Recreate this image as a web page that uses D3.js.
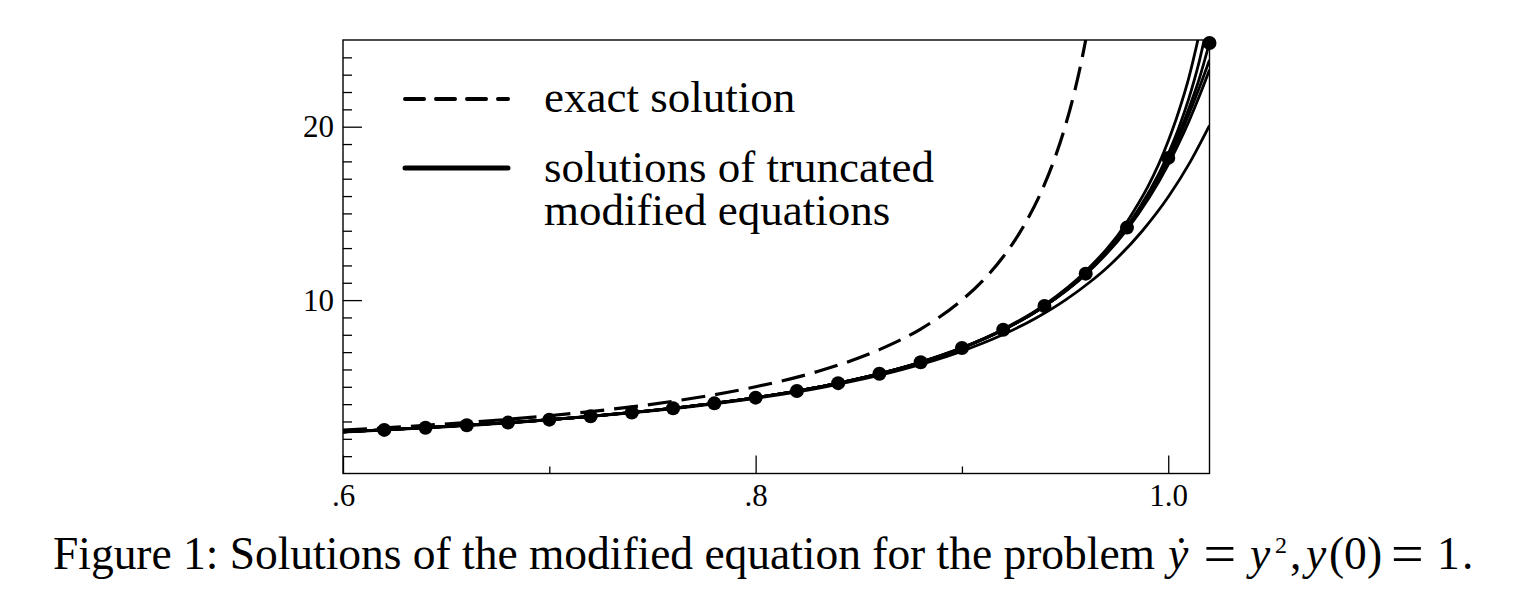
<!DOCTYPE html>
<html>
<head>
<meta charset="utf-8">
<script src="https://cdn.jsdelivr.net/npm/d3@7"></script>
<style>
  html, body { margin: 0; padding: 0; background: #fff; }
  svg { display: block; }
  text { font-family: "Liberation Serif", "Times New Roman", serif; fill: #000; }
</style>
</head>
<body>
<script>
// ---------------- data ----------------
// exact solution (dashed)
const tExact = [0.60, 0.64, 0.68, 0.72, 0.76, 0.80, 0.83, 0.86, 0.88, 0.90, 0.91, 0.92, 0.93, 0.94, 0.945, 0.95, 0.955, 0.96, 0.962];
const yExact = [2.5, 2.778, 3.125, 3.571, 4.167, 5.0, 5.882, 7.143, 8.333, 10.0, 11.111, 12.5, 14.286, 16.667, 18.182, 20.0, 22.222, 25.0, 26.316];

// lowest truncated solution
const tTrunc2 = [0.600, 0.6895, 0.7790, 0.8339, 0.8713, 0.8987, 0.9197, 0.9364, 0.9501, 0.9616, 0.9715, 0.9875, 1.0003, 1.0108, 1.0197, 1.0200];
const yTrunc2 = [2.392, 3.0, 4.0, 5.0, 6.0, 7.0, 8.0, 9.0, 10.0, 11.0, 12.0, 14.0, 16.0, 18.0, 20.0, 20.07];

// the other truncated solutions
const tGrid = [0.60, 0.64, 0.68, 0.72, 0.76, 0.80, 0.84, 0.88, 0.90, 0.92, 0.94, 0.96, 0.98, 1.00, 1.005, 1.01, 1.015, 1.02];
const yTrunc3 = [2.398, 2.641, 2.936, 3.301, 3.767, 4.377, 5.215, 6.427, 7.258, 8.322, 9.727, 11.666, 14.51, 19.17, 20.85, 22.83, 25.33];
const yTrunc4 = [2.398, 2.640, 2.934, 3.299, 3.764, 4.375, 5.209, 6.412, 7.234, 8.278, 9.641, 11.48, 14.06, 17.82, 19.01, 20.31, 21.74, 23.28];
const yTrunc5 = [2.398, 2.640, 2.934, 3.299, 3.764, 4.375, 5.210, 6.415, 7.239, 8.287, 9.662, 11.538, 14.23, 18.44, 19.90, 21.63, 23.75, 26.45];
const yTrunc6 = [2.398, 2.640, 2.934, 3.299, 3.764, 4.375, 5.210, 6.415, 7.238, 8.285, 9.657, 11.517, 14.155, 18.07, 19.33, 20.72, 22.23, 23.85];
const yTrunc7 = [2.398, 2.640, 2.934, 3.299, 3.764, 4.375, 5.210, 6.415, 7.238, 8.286, 9.660, 11.526, 14.19, 18.22, 19.55, 21.05, 22.75, 24.85];

// numerical solution (dots)
const tDots = [0.62, 0.64, 0.66, 0.68, 0.70, 0.72, 0.74, 0.76, 0.78, 0.80, 0.82, 0.84, 0.86, 0.88, 0.90, 0.92, 0.94, 0.96, 0.98, 1.00, 1.02];
const yDots = [2.514, 2.640, 2.779, 2.934, 3.106, 3.299, 3.517, 3.764, 4.047, 4.375, 4.757, 5.210, 5.753, 6.415, 7.238, 8.286, 9.659, 11.524, 14.180, 18.200, 24.825];

// axes
const xMajorTicks = [0.6, 0.8, 1.0];
const xTickLabels = [".6", ".8", "1.0"];
const xMinorTicks = [0.7, 0.9];
const yMajorTicks = [10, 20];
const yTickLabels = ["10", "20"];
const yMinorTicks = [1,2,3,4,5,6,7,8,9,11,12,13,14,15,16,17,18,19,21,22,23,24];

const legendLabels = ["exact solution", "solutions of truncated", "modified equations"];
const captionText = "Figure 1: Solutions of the modified equation for the problem";

// ---------------- drawing ----------------
const W = 1529, H = 599;
const svg = d3.select("body").append("svg").attr("width", W).attr("height", H);

const x = d3.scaleLinear().domain([0.6, 1.02]).range([343, 1209.5]);
const y = d3.scaleLinear().domain([0, 25]).range([473.5, 40]);

svg.append("defs").append("clipPath").attr("id", "plotclip")
  .append("rect")
  .attr("x", x.range()[0]).attr("y", y.range()[1])
  .attr("width", x.range()[1] - x.range()[0])
  .attr("height", y.range()[0] - y.range()[1]);

const line = d3.line().x(d => x(d[0])).y(d => y(d[1])).curve(d3.curveMonotoneX);
const zip = (ts, ys) => ys.map((v, i) => [ts[i], v]);

const plot = svg.append("g").attr("clip-path", "url(#plotclip)");

// solid curves
const solid = [
  zip(tTrunc2, yTrunc2),
  zip(tGrid, yTrunc4),
  zip(tGrid, yTrunc6),
  zip(tGrid, yTrunc7),
  zip(tGrid, yTrunc5),
  zip(tGrid, yTrunc3)
];
plot.selectAll("path.solid").data(solid).enter().append("path")
  .attr("class", "solid")
  .attr("d", line)
  .attr("fill", "none")
  .attr("stroke", "#000")
  .attr("stroke-width", 2.8);

// exact (dashed)
plot.append("path")
  .attr("d", line(zip(tExact, yExact)))
  .attr("fill", "none")
  .attr("stroke", "#000")
  .attr("stroke-width", 3.2)
  .attr("stroke-dasharray", "24,10");

// frame
svg.append("rect")
  .attr("x", x.range()[0]).attr("y", y.range()[1])
  .attr("width", x.range()[1] - x.range()[0])
  .attr("height", y.range()[0] - y.range()[1])
  .attr("fill", "none").attr("stroke", "#000").attr("stroke-width", 1.4);

// axes
function styleAxis(g) {
  g.select(".domain").remove();
  g.selectAll(".tick line").attr("stroke", "#000").attr("stroke-width", 1.3);
  g.selectAll(".tick text").attr("font-family", "Liberation Serif").attr("font-size", 31).attr("fill", "#000");
}
svg.append("g").attr("transform", `translate(0,${y.range()[0]})`)
  .call(d3.axisBottom(x).tickValues(xMinorTicks).tickSize(-7).tickFormat(""))
  .call(styleAxis);
svg.append("g").attr("transform", `translate(0,${y.range()[0]})`)
  .call(d3.axisBottom(x).tickValues(xMajorTicks).tickSize(-18).tickPadding(10)
        .tickFormat((d, i) => xTickLabels[i]))
  .call(styleAxis);
svg.append("g").attr("transform", `translate(${x.range()[0]},0)`)
  .call(d3.axisLeft(y).tickValues(yMinorTicks).tickSize(-9).tickFormat(""))
  .call(styleAxis);
svg.append("g").attr("transform", `translate(${x.range()[0]},0)`)
  .call(d3.axisLeft(y).tickValues(yMajorTicks).tickSize(-19).tickPadding(9)
        .tickFormat((d, i) => yTickLabels[i]))
  .call(styleAxis);

// dots
svg.append("g").selectAll("circle").data(zip(tDots, yDots)).enter().append("circle")
  .attr("cx", d => x(d[0])).attr("cy", d => y(d[1])).attr("r", 7).attr("fill", "#000");

// legend
const lg = svg.append("g");
lg.append("line").attr("x1", 405).attr("x2", 508).attr("y1", 99).attr("y2", 99)
  .attr("stroke", "#000").attr("stroke-width", 4).attr("stroke-linecap", "round")
  .attr("stroke-dasharray", "19,12");
lg.append("line").attr("x1", 405).attr("x2", 508).attr("y1", 168).attr("y2", 168)
  .attr("stroke", "#000").attr("stroke-width", 5).attr("stroke-linecap", "round");
lg.append("text").attr("x", 544).attr("y", 112).attr("font-size", 45).text(legendLabels[0]);
const lt2 = lg.append("text").attr("x", 544).attr("y", 182).attr("font-size", 45);
lt2.append("tspan").attr("x", 544).attr("y", 182).text(legendLabels[1]);
lt2.append("tspan").attr("x", 544).attr("y", 225).text(legendLabels[2]);

// caption
const cap = svg.append("g").attr("font-size", 45.5);
cap.append("text").attr("x", 53).attr("y", 569)
  .attr("textLength", 1102).attr("lengthAdjust", "spacing")
  .text(captionText);
const mathParts = [
  { s: "y\u0307", x: 1168, yy: 569, it: true },
  { s: "=", x: 1203.5, yy: 573, fs: 58 },
  { s: "y", x: 1250, yy: 569, it: true },
  { s: "2", x: 1275, yy: 553, fs: 24 },
  { s: ",", x: 1290, yy: 569 },
  { s: "y", x: 1306, yy: 569, it: true },
  { s: "(", x: 1329, yy: 569 },
  { s: "0", x: 1344, yy: 569 },
  { s: ")", x: 1367, yy: 569 },
  { s: "=", x: 1391, yy: 573, fs: 58 },
  { s: "1", x: 1437, yy: 569 },
  { s: ".", x: 1462, yy: 569 }
];
const mathText = cap.append("text").attr("x", 1168).attr("y", 569);
mathParts.forEach(p => {
  const t = mathText.append("tspan").attr("x", p.x).attr("y", p.yy)
    .attr("font-style", p.it ? "italic" : "normal")
    .text(p.s);
  if (p.fs) t.attr("font-size", p.fs);
});
</script>
</body>
</html>
